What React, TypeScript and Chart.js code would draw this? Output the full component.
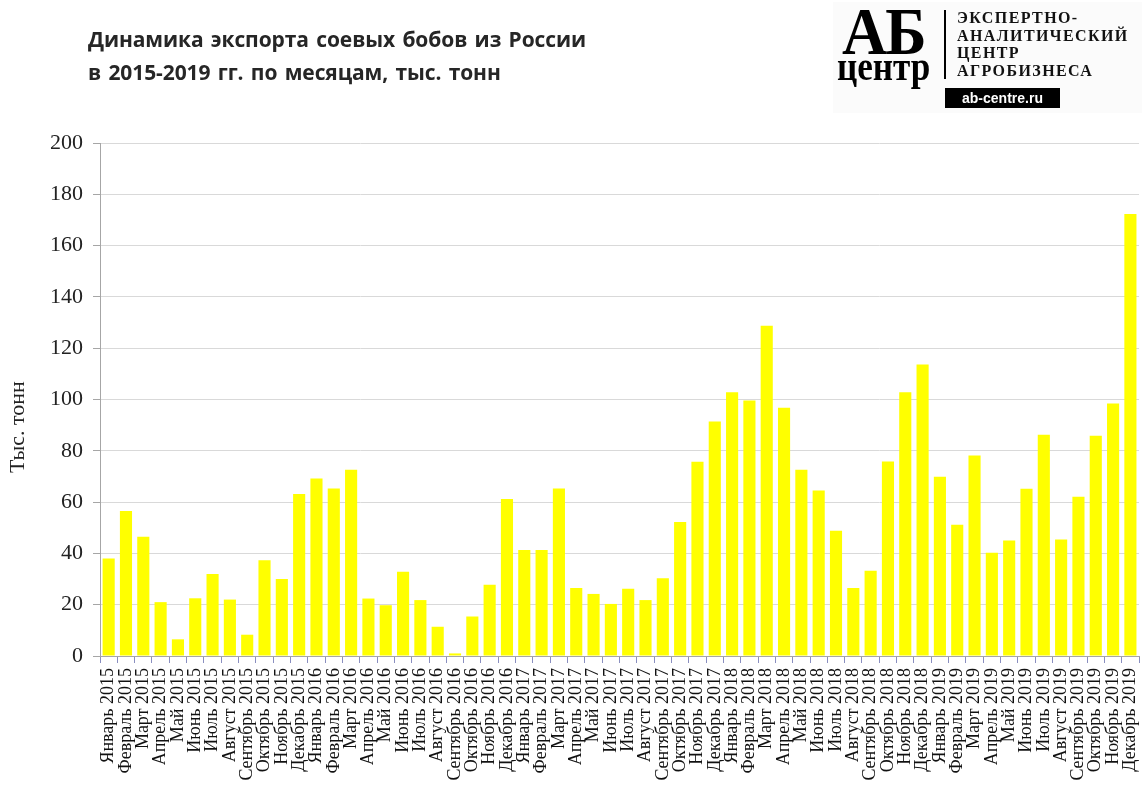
import React, { useEffect, useRef } from "react";
import { Chart, registerables } from "chart.js";

Chart.register(...registerables);

const months = ["Январь", "Февраль", "Март", "Апрель", "Май", "Июнь", "Июль", "Август", "Сентябрь", "Октябрь", "Ноябрь", "Декабрь"];
const years = [2015, 2016, 2017, 2018, 2019];

const values2015 = [38, 56.5, 46.5, 21, 6.5, 22.5, 32, 22, 8.3, 37.3, 30, 63.2];
const values2016 = [69.2, 65.3, 72.6, 22.4, 19.8, 32.8, 21.8, 11.4, 1, 15.4, 27.8, 61.2];
const values2017 = [41.3, 41.3, 65.3, 26.5, 24.2, 20.3, 26.2, 21.8, 30.3, 52.2, 75.7, 91.4];
const values2018 = [102.8, 99.6, 128.8, 96.8, 72.6, 64.5, 48.8, 26.5, 33.2, 75.8, 102.8, 113.6];
const values2019 = [69.9, 51.2, 78.2, 40.3, 45, 65.2, 86.3, 45.4, 62.1, 85.9, 98.4, 172.3];

const yTickValues = [0, 20, 40, 60, 80, 100, 120, 140, 160, 180, 200];

const categories: string[] = years.flatMap((y) => months.map((m) => `${m} ${y}`));
const seriesValues: number[] = [...values2015, ...values2016, ...values2017, ...values2018, ...values2019];

const SERIF = "'Liberation Serif', 'Times New Roman', serif";

export default function App() {
  const canvasRef = useRef<HTMLCanvasElement | null>(null);

  useEffect(() => {
    document.body.style.margin = "0";
    const canvas = canvasRef.current;
    if (!canvas) return;
    const chart = new Chart(canvas, {
      type: "bar",
      data: {
        labels: categories,
        datasets: [
          {
            label: "Экспорт",
            data: seriesValues,
            backgroundColor: "#FFFF00",
            borderWidth: 0,
            categoryPercentage: 1,
            barPercentage: 0.7,
          },
        ],
      },
      options: {
        responsive: false,
        animation: false,
        layout: { padding: { top: 143, left: 0, right: 0, bottom: 0 } },
        plugins: {
          legend: { display: false },
          tooltip: { enabled: false },
          title: { display: false },
        },
        scales: {
          x: {
            offset: true,
            grid: {
              offset: true,
              drawOnChartArea: false,
              drawTicks: true,
              tickLength: 7,
              color: "#8a8fc0",
            },
            border: { display: true, color: "#a6a6a6", width: 1 },
            ticks: {
              autoSkip: false,
              maxRotation: 90,
              minRotation: 90,
              padding: 5,
              color: "#111",
              font: { family: SERIF, size: 18 },
            },
            afterFit: (scale: any) => {
              scale.height = 151;
            },
          },
          y: {
            min: 0,
            max: 200,
            afterBuildTicks: (scale: any) => {
              scale.ticks = yTickValues.map((v) => ({ value: v }));
            },
            grid: {
              color: "#d9d9d9",
              drawTicks: true,
              tickLength: 7,
              tickColor: "#a6a6a6",
            },
            border: { display: true, color: "#a6a6a6", width: 1 },
            ticks: {
              padding: 10,
              color: "#222",
              font: { family: SERIF, size: 22 },
            },
            title: {
              display: true,
              text: "Тыс. тонн\u2003\u2003\u2002",
              color: "#222",
              padding: { top: 5, bottom: 0 },
              font: { family: SERIF, size: 22 },
            },
            afterFit: (scale: any) => {
              scale.width = 100;
            },
          },
        },
      },
    });
    return () => chart.destroy();
  }, []);

  return (
    <div style={{ position: "relative", width: 1142, height: 807, background: "#fff", overflow: "hidden" }}>
      <canvas ref={canvasRef} width={1157} height={807} style={{ position: "absolute", left: 0, top: 0 }} />
      <div
        style={{
          position: "absolute",
          left: 88,
          top: 23,
          fontFamily: "'Open Sans', 'Noto Sans', sans-serif",
          fontWeight: 700,
          fontSize: 21,
          lineHeight: "33px",
          color: "#262626",
          letterSpacing: "-0.1px",
          wordSpacing: "2px",
          whiteSpace: "nowrap",
        }}
      >
        <div>Динамика экспорта соевых бобов из России</div>
        <div>в 2015-2019 гг. по месяцам, тыс. тонн</div>
      </div>
      <div
        style={{
          position: "absolute",
          left: 833,
          top: 2,
          width: 309,
          height: 111,
          background: "#fbfbfb",
        }}
      >
        <div
          style={{
            position: "absolute",
            left: 9,
            top: -5,
            fontFamily: SERIF,
            fontWeight: 700,
            fontSize: 68,
            lineHeight: "68px",
            color: "#000",
            transform: "scaleX(0.92)",
            transformOrigin: "left top",
            letterSpacing: "-2px",
            whiteSpace: "nowrap",
          }}
        >
          АБ
        </div>
        <div
          style={{
            position: "absolute",
            left: 4,
            top: 45,
            fontFamily: SERIF,
            fontWeight: 700,
            fontSize: 39,
            lineHeight: "39px",
            color: "#000",
            transform: "scaleX(0.9)",
            transformOrigin: "left top",
            whiteSpace: "nowrap",
          }}
        >
          центр
        </div>
        <div style={{ position: "absolute", left: 111, top: 8, width: 2, height: 69, background: "#000" }} />
        <div
          style={{
            position: "absolute",
            left: 124,
            top: 7,
            fontFamily: SERIF,
            fontWeight: 700,
            fontSize: 16,
            lineHeight: "17.7px",
            color: "#111",
            letterSpacing: "1.4px",
            whiteSpace: "nowrap",
          }}
        >
          <div>ЭКСПЕРТНО-</div>
          <div>АНАЛИТИЧЕСКИЙ</div>
          <div>ЦЕНТР</div>
          <div>АГРОБИЗНЕСА</div>
        </div>
        <div
          style={{
            position: "absolute",
            left: 112,
            top: 86,
            width: 115,
            height: 20,
            background: "#000",
            color: "#fff",
            fontFamily: "'Liberation Sans', Arial, sans-serif",
            fontWeight: 700,
            fontSize: 14,
            lineHeight: "20px",
            textAlign: "center",
          }}
        >
          ab-centre.ru
        </div>
      </div>
    </div>
  );
}
